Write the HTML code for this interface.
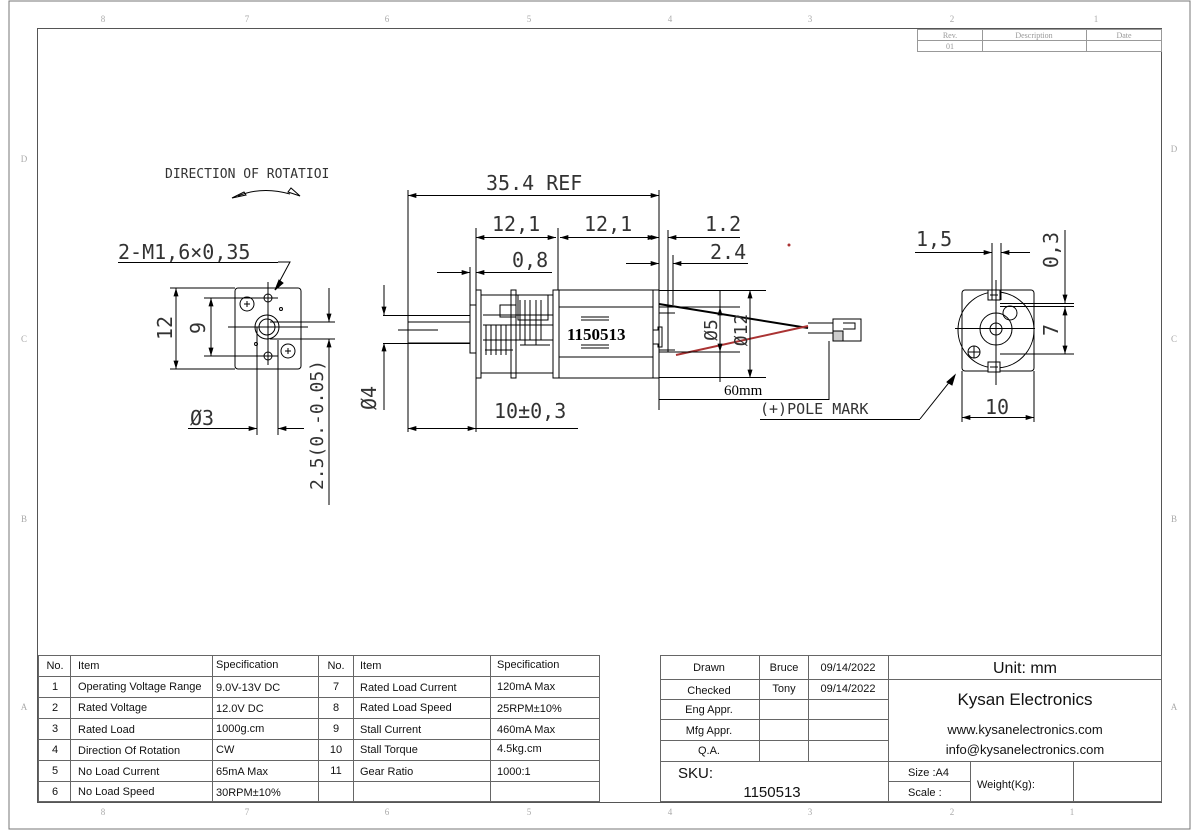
<!DOCTYPE html>
<html><head><meta charset="utf-8"><style>
html,body{margin:0;padding:0;background:#fff}
svg{display:block}
text{font-family:"Liberation Sans",sans-serif}
text.m{font-family:"DejaVu Sans Mono","Liberation Mono",monospace;font-weight:normal}
text.s{font-family:"Liberation Serif",serif}
</style></head><body>
<svg width="1200" height="830" viewBox="0 0 1200 830" xmlns="http://www.w3.org/2000/svg">
<defs>
<marker id="a" viewBox="0 0 10 6" refX="10" refY="3" markerWidth="10" markerHeight="5" orient="auto-start-reverse" markerUnits="userSpaceOnUse"><path d="M0,0L10,3L0,6z" fill="#000"/></marker>
</defs>
<g fill="none" stroke="#555" stroke-width="1">
<rect x="9" y="1" width="1181" height="828" stroke="#777"/>
<rect x="37.5" y="28.5" width="1124" height="774" stroke="#555"/>
</g>
<g fill="#aaa" font-size="9" text-anchor="middle">
<text class="s" x="103" y="22">8</text><text class="s" x="247" y="22">7</text><text class="s" x="387" y="22">6</text><text class="s" x="529" y="22">5</text><text class="s" x="670" y="22">4</text><text class="s" x="810" y="22">3</text><text class="s" x="952" y="22">2</text><text class="s" x="1096" y="22">1</text>
<text class="s" x="103" y="815">8</text><text class="s" x="247" y="815">7</text><text class="s" x="387" y="815">6</text><text class="s" x="529" y="815">5</text><text class="s" x="670" y="815">4</text><text class="s" x="810" y="815">3</text><text class="s" x="952" y="815">2</text><text class="s" x="1072" y="815">1</text>
<text class="s" x="24" y="162">D</text><text class="s" x="24" y="342">C</text><text class="s" x="24" y="522">B</text><text class="s" x="24" y="710">A</text>
<text class="s" x="1174" y="152">D</text><text class="s" x="1174" y="342">C</text><text class="s" x="1174" y="522">B</text><text class="s" x="1174" y="710">A</text>
</g>
<g stroke="#999" fill="none"><rect x="917.5" y="29.5" width="244" height="22"/><line x1="917" y1="40.5" x2="1162" y2="40.5"/><line x1="982.5" y1="29" x2="982.5" y2="52"/><line x1="1086.5" y1="29" x2="1086.5" y2="52"/></g>
<g fill="#999" font-size="8" text-anchor="middle"><text class="s" x="950" y="38">Rev.</text><text class="s" x="1034" y="38">Description</text><text class="s" x="1124" y="38">Date</text><text class="s" x="950" y="49">01</text></g>

<g stroke="#000" fill="none" stroke-width="1">
<path d="M238,196 Q262,186 290,194"/><path d="M232,198l12,-6l2,3z M288,192l12,4l-9,-8z"/>
<line x1="118" y1="262.5" x2="278" y2="262.5"/><path d="M278,262 L290,262 L275,290"/><path d="M275,290l4,-10l4,3z" fill="#000"/>
<rect x="235" y="288" width="66" height="81" rx="3"/>
<circle cx="268" cy="298" r="4"/><circle cx="268" cy="356" r="4"/>
<circle cx="267" cy="327" r="12"/><circle cx="267" cy="327" r="8"/>
<circle cx="247" cy="304" r="7"/><circle cx="288" cy="351" r="7"/>
<path d="M244,304h6M247,301v6M285,351h6M288,348v6"/>
<circle cx="281" cy="309" r="1.5"/><circle cx="256" cy="344" r="1.5"/>
<line x1="170" y1="288" x2="235" y2="288"/><line x1="170" y1="369" x2="235" y2="369"/>
<line x1="176" y1="288" x2="176" y2="369" marker-start="url(#a)" marker-end="url(#a)"/>
<line x1="204" y1="298" x2="278" y2="298"/><line x1="204" y1="356" x2="278" y2="356"/>
<line x1="211" y1="298" x2="211" y2="356" marker-start="url(#a)" marker-end="url(#a)"/>
<line x1="228" y1="327" x2="308" y2="327"/>
<line x1="268" y1="282" x2="268" y2="365"/>
<line x1="257" y1="327" x2="257" y2="435"/><line x1="278" y1="340" x2="278" y2="435"/>
<line x1="188" y1="428.5" x2="257" y2="428.5" marker-end="url(#a)"/><line x1="304" y1="428.5" x2="278" y2="428.5" marker-end="url(#a)"/>
<line x1="270" y1="322" x2="335" y2="322"/><line x1="270" y1="339" x2="335" y2="339"/>
<line x1="329" y1="288" x2="329" y2="322" marker-end="url(#a)"/><line x1="329" y1="505" x2="329" y2="339" marker-end="url(#a)"/>
<line x1="408" y1="190" x2="408" y2="432"/><line x1="659" y1="190" x2="659" y2="290"/>
<line x1="408" y1="195.5" x2="659" y2="195.5" marker-start="url(#a)" marker-end="url(#a)"/>
<line x1="476" y1="228" x2="476" y2="432"/><line x1="558" y1="228" x2="558" y2="290"/>
<line x1="476" y1="237.5" x2="556" y2="237.5" marker-start="url(#a)" marker-end="url(#a)"/>
<line x1="560" y1="237.5" x2="656" y2="237.5" marker-start="url(#a)" marker-end="url(#a)"/>
<line x1="668" y1="230" x2="668" y2="352"/>
<line x1="632" y1="237.5" x2="659" y2="237.5" marker-end="url(#a)"/><line x1="740" y1="237.5" x2="668" y2="237.5" marker-end="url(#a)"/>
<line x1="673" y1="255" x2="673" y2="305"/>
<line x1="626" y1="263.5" x2="659" y2="263.5" marker-end="url(#a)"/><line x1="748" y1="263.5" x2="673" y2="263.5" marker-end="url(#a)"/>
<line x1="470" y1="267" x2="470" y2="315"/>
<line x1="437" y1="272.5" x2="470" y2="272.5" marker-end="url(#a)"/><line x1="552" y1="272.5" x2="476" y2="272.5" marker-end="url(#a)"/>
<line x1="383" y1="315.5" x2="470" y2="315.5"/><line x1="383" y1="343.5" x2="470" y2="343.5"/>
<line x1="384" y1="285" x2="384" y2="315" marker-end="url(#a)"/><line x1="384" y1="410" x2="384" y2="343" marker-end="url(#a)"/>
<rect x="408" y="322" width="62" height="21"/><line x1="398" y1="330" x2="438" y2="330"/>
<rect x="470" y="305" width="6" height="48"/>
<rect x="476" y="290" width="5" height="88"/><rect x="511" y="290" width="5" height="88"/>
<path d="M481,295H553M481,373H553"/>
<rect x="553" y="290" width="6" height="88"/><rect x="559" y="290" width="94" height="88"/><rect x="653" y="290" width="6" height="88"/>
<path d="M559,307H653M559,357H653"/>
<path d="M653,330h5v-3h4v20h-4v-3h-5" />
<path d="M483,315h70M483,325h70M483,340h70M485,350h28M520,345h30"/>
<rect x="500" y="305" width="16" height="12"/><rect x="518" y="295" width="30" height="25"/>
<path d="M520,300v40M525,300v45M530,300v40M536,300v45M541,300v40M486,325v30M491,325v30M496,325v30M501,325v30M506,325v30"/>
<path d="M581,317h28M581,320h28M581,345h28M581,348h28"/>
<line x1="659" y1="304" x2="808" y2="328" stroke-width="2"/>
<line x1="676" y1="355" x2="808" y2="326" stroke="#a33" stroke-width="2"/>
<path d="M659,313h16M659,350h16M808,323h25M808,333h25"/>
<rect x="833" y="319" width="28" height="22"/><rect x="833" y="331" width="10" height="10" fill="#ccc"/><path d="M843,323h12v6h-12"/>
<line x1="659" y1="290.5" x2="766" y2="290.5"/><line x1="659" y1="377.5" x2="766" y2="377.5"/>
<line x1="659" y1="307" x2="740" y2="307"/><line x1="659" y1="352" x2="740" y2="352"/>
<line x1="720" y1="290" x2="720" y2="382"/>
<line x1="720" y1="307" x2="720" y2="352" marker-start="url(#a)" marker-end="url(#a)"/>
<line x1="750" y1="290" x2="750" y2="378" marker-start="url(#a)" marker-end="url(#a)"/>
<line x1="659" y1="378" x2="659" y2="410"/><line x1="829" y1="341" x2="829" y2="400"/>
<line x1="659" y1="399.5" x2="829" y2="399.5"/>
<line x1="408" y1="428.5" x2="476" y2="428.5" marker-start="url(#a)" marker-end="url(#a)"/><line x1="476" y1="428.5" x2="578" y2="428.5"/>
<line x1="760" y1="419.5" x2="920" y2="419.5"/><path d="M920,419L955,375"/><path d="M955,375l-3,10l-5,-3z" fill="#000"/>
<path d="M965,290h66a3,3 0 0 1 3,3v75a3,3 0 0 1 -3,3h-66a3,3 0 0 1 -3,-3v-75a3,3 0 0 1 3,-3z"/>
<circle cx="996" cy="330" r="38"/>
<circle cx="996" cy="329" r="16"/><circle cx="996" cy="329" r="6"/>
<circle cx="1010" cy="313" r="7"/><circle cx="974" cy="352" r="6"/><path d="M968,352h12M974,346v12"/>
<rect x="988" y="290" width="12" height="10" fill="#fff"/><rect x="988" y="362" width="12" height="10" fill="#fff"/>
<path d="M990,295h8M990,367h8"/>
<line x1="955" y1="328.5" x2="1035" y2="328.5"/><line x1="996" y1="280" x2="996" y2="385"/>
<line x1="992" y1="243" x2="992" y2="300"/><line x1="1001" y1="243" x2="1001" y2="300"/>
<line x1="915" y1="252.5" x2="992" y2="252.5" marker-end="url(#a)"/><line x1="1030" y1="252.5" x2="1001" y2="252.5" marker-end="url(#a)"/>
<line x1="1000" y1="303.5" x2="1074" y2="303.5"/><line x1="1000" y1="306.5" x2="1074" y2="306.5"/><line x1="1000" y1="354" x2="1074" y2="354"/>
<line x1="1065" y1="230" x2="1065" y2="303" marker-end="url(#a)"/>
<line x1="1065" y1="307" x2="1065" y2="354" marker-start="url(#a)" marker-end="url(#a)"/>
<line x1="962" y1="371" x2="962" y2="422"/><line x1="1034" y1="371" x2="1034" y2="422"/>
<line x1="962" y1="417.5" x2="1034" y2="417.5" marker-start="url(#a)" marker-end="url(#a)"/>
</g>
<circle cx="789" cy="245" r="1.5" fill="#a33"/>
<g fill="#333">
<text class="m" x="165" y="178" font-size="13">DIRECTION OF ROTATIOI</text>
<text class="m" x="118" y="259" font-size="20">2-M1,6×0,35</text>
<text class="m" x="190" y="425" font-size="20">Ø3</text>
<text class="m" x="172" y="328" font-size="20" transform="rotate(-90 172 328)" text-anchor="middle">12</text>
<text class="m" x="205" y="328" font-size="20" transform="rotate(-90 205 328)" text-anchor="middle">9</text>
<text class="m" x="323" y="425" font-size="18" transform="rotate(-90 323 425)" text-anchor="middle">2.5(0.-0.05)</text>
<text class="m" x="376" y="398" font-size="20" transform="rotate(-90 376 398)" text-anchor="middle">Ø4</text>
<text class="m" x="486" y="190" font-size="20">35.4 REF</text>
<text class="m" x="492" y="231" font-size="20">12,1</text>
<text class="m" x="584" y="231" font-size="20">12,1</text>
<text class="m" x="705" y="231" font-size="20">1.2</text>
<text class="m" x="710" y="259" font-size="20">2.4</text>
<text class="m" x="512" y="267" font-size="20">0,8</text>
<text class="m" x="494" y="418" font-size="20">10±0,3</text>
<text class="m" x="760" y="414" font-size="15">(+)POLE MARK</text>
<text class="m" x="916" y="246" font-size="20">1,5</text>
<text class="m" x="985" y="414" font-size="20">10</text>
<text class="m" x="1058" y="250" font-size="20" transform="rotate(-90 1058 250)" text-anchor="middle">0,3</text>
<text class="m" x="1058" y="330" font-size="20" transform="rotate(-90 1058 330)" text-anchor="middle">7</text>
<text class="m" x="717" y="330" font-size="18" transform="rotate(-90 717 330)" text-anchor="middle">Ø5</text>
<text class="m" x="747" y="330" font-size="18" transform="rotate(-90 747 330)" text-anchor="middle">Ø12</text>
</g>
<text class="s" x="567" y="340" font-size="17" font-weight="bold">1150513</text>
<text class="s" x="724" y="395" font-size="15">60mm</text>
<g stroke="#666" fill="none">
<rect x="38.5" y="655.5" width="561" height="146"/>
<path d="M38,676.5H599M38,697.5H599M38,718.5H599M38,739.5H599M38,760.5H599M38,781.5H599"/>
<path d="M70.5,655V802M212.5,655V802M318.5,655V802M353.5,655V802M490.5,655V802"/>
</g>
<g font-size="11" fill="#111">
<g text-anchor="middle"><text x="55" y="669">No.</text><text x="336" y="669">No.</text>
<text x="55" y="690">1</text><text x="55" y="711">2</text><text x="55" y="732">3</text><text x="55" y="753">4</text><text x="55" y="774">5</text><text x="55" y="795">6</text>
<text x="336" y="690">7</text><text x="336" y="711">8</text><text x="336" y="732">9</text><text x="336" y="753">10</text><text x="336" y="774">11</text></g>
<text x="78" y="669">Item</text><text x="216" y="668">Specification</text><text x="360" y="669">Item</text><text x="497" y="668">Specification</text>
<text x="78" y="690">Operating Voltage Range</text><text x="216" y="691">9.0V-13V DC</text><text x="360" y="691">Rated Load Current</text><text x="497" y="690">120mA Max</text>
<text x="78" y="711">Rated Voltage</text><text x="216" y="712">12.0V DC</text><text x="360" y="711">Rated Load Speed</text><text x="497" y="712">25RPM±10%</text>
<text x="78" y="733">Rated Load</text><text x="216" y="732">1000g.cm</text><text x="360" y="733">Stall Current</text><text x="497" y="733">460mA Max</text>
<text x="78" y="754">Direction Of Rotation</text><text x="216" y="753">CW</text><text x="360" y="753">Stall Torque</text><text x="497" y="752">4.5kg.cm</text>
<text x="78" y="775">No Load Current</text><text x="216" y="775">65mA Max</text><text x="360" y="775">Gear Ratio</text><text x="497" y="775">1000:1</text>
<text x="78" y="795">No Load Speed</text><text x="216" y="796">30RPM±10%</text>
</g>
<g stroke="#666" fill="none">
<rect x="660.5" y="655.5" width="501" height="146"/>
<path d="M660,679.5H888M660,699.5H888M660,719.5H888M660,740.5H888M660,761.5H1162M888,679.5H1162M888,781.5H970"/>
<path d="M759.5,655V761M808.5,655V761M888.5,655V802M970.5,761V802M1073.5,761V802"/>
</g>
<g font-size="11" fill="#111" text-anchor="middle">
<text x="709" y="671">Drawn</text><text x="784" y="671">Bruce</text><text x="848" y="671">09/14/2022</text>
<text x="709" y="694">Checked</text><text x="784" y="692">Tony</text><text x="848" y="692">09/14/2022</text>
<text x="709" y="713">Eng Appr.</text><text x="709" y="734">Mfg Appr.</text><text x="709" y="754">Q.A.</text>
<text x="1025" y="673" font-size="16">Unit: mm</text>
<text x="1025" y="705" font-size="17">Kysan Electronics</text>
<text x="1025" y="734" font-size="13">www.kysanelectronics.com</text>
<text x="1025" y="754" font-size="13">info@kysanelectronics.com</text>
<text x="772" y="797" font-size="15">1150513</text>
</g>
<g font-size="11" fill="#111">
<text x="678" y="778" font-size="15">SKU:</text>
<text x="908" y="776">Size :A4</text><text x="908" y="796">Scale :</text><text x="977" y="788">Weight(Kg):</text>
</g>
</svg>
</body></html>
